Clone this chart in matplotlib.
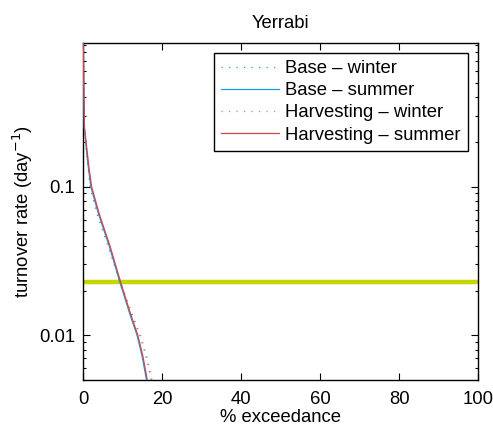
import matplotlib
matplotlib.use("Agg")
import matplotlib.pyplot as plt
from matplotlib.ticker import LogLocator, FixedLocator, FixedFormatter, NullFormatter

plt.rcParams['font.family'] = ['Liberation Sans', 'DejaVu Sans']

# Turnover rate levels (day^-1) and the % exceedance at which each series reaches them
rate = [0.92, 0.5, 0.25, 0.17, 0.133, 0.1, 0.066, 0.0395, 0.023, 0.0141, 0.01, 0.0072, 0.005]
base_winter = [0, 0.1, 0.25, 0.8, 1.2, 1.7, 3.4, 6.3, 9.2, 12.1, 14.3, 15.9, 17.2]
base_summer = [0, 0.1, 0.25, 0.85, 1.3, 1.9, 3.8, 6.6, 9.2, 11.7, 13.6, 14.9, 16.0]
harv_winter = [0, 0.12, 0.3, 0.9, 1.35, 1.9, 3.6, 6.5, 9.4, 12.3, 14.5, 16.1, 17.4]
harv_summer = [0, 0.12, 0.3, 1.0, 1.45, 2.1, 4.0, 6.8, 9.4, 11.9, 13.8, 15.1, 16.2]
threshold = 0.023

labels = ['Base \u2013 winter', 'Base \u2013 summer',
          'Harvesting \u2013 winter', 'Harvesting \u2013 summer']

FS = 13.3

fig = plt.figure(figsize=(4.93, 4.26), dpi=100)
ax = fig.add_axes([0.169, 0.108, 0.801, 0.790])

blue = '#1a9fd8'
red = '#d0444a'
ax.axhline(threshold, color='#c4d600', lw=3.2, zorder=1)
ax.plot(base_winter, rate, ls=(0, (1, 5)), color=blue, lw=0.9, label=labels[0], zorder=2)
ax.plot(base_summer, rate, ls='-', color=blue, lw=0.9, label=labels[1], zorder=3)
ax.plot(harv_winter, rate, ls=(0, (1, 5)), color='#e47a80', lw=0.9, label=labels[2], zorder=2)
ax.plot(harv_summer, rate, ls='-', color=red, lw=0.9, label=labels[3], zorder=3)

ax.set_yscale('log')
ax.set_xlim(0, 100)
ax.set_ylim(0.005, 0.92)
ax.set_xticks([0, 20, 40, 60, 80, 100])
ax.yaxis.set_major_locator(FixedLocator([0.01, 0.1]))
ax.yaxis.set_major_formatter(FixedFormatter(['0.01', '0.1']))
ax.yaxis.set_minor_locator(LogLocator(base=10, subs=range(2, 10)))
ax.yaxis.set_minor_formatter(NullFormatter())

ax.tick_params(which='both', direction='in', top=True, right=True, labelsize=FS)
ax.tick_params(axis='x', pad=8)
ax.tick_params(axis='y', pad=6)
ax.tick_params(which='major', length=5, width=0.8)
ax.tick_params(which='minor', length=2.5, width=0.8)
for s in ax.spines.values():
    s.set_linewidth(1.0)

ax.set_xlabel('% exceedance', fontsize=FS, labelpad=1)
ax.set_ylabel('turnover rate (day$^{-1}$)', fontsize=FS, labelpad=3)
ax.set_title('Yerrabi', fontsize=FS, pad=11)

leg = ax.legend(loc='upper right', bbox_to_anchor=(468.3 / 493, 1 - 52.7 / 426),
                bbox_transform=fig.transFigure, fontsize=FS, frameon=True,
                fancybox=False, framealpha=1, edgecolor='black',
                handlelength=3.1, handletextpad=0.36, borderpad=0.4,
                labelspacing=0.28, borderaxespad=0)
leg.get_frame().set_linewidth(1.0)

fig.savefig('out.png', dpi=100)
